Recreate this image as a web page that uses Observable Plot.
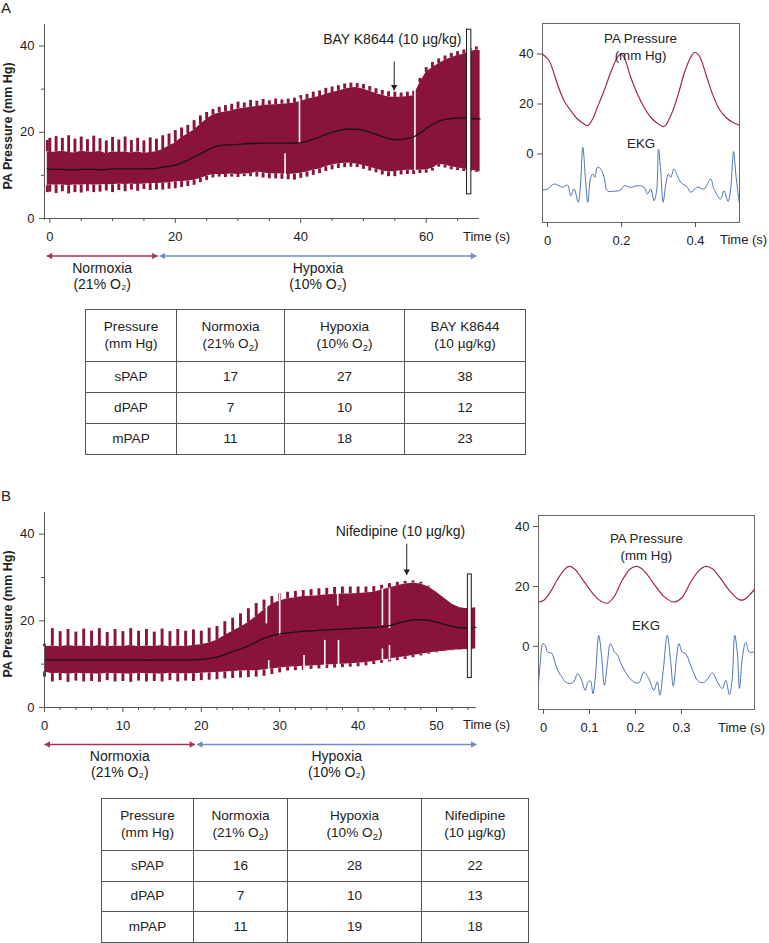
<!DOCTYPE html>
<html>
<head>
<meta charset="utf-8">
<script src="https://cdn.jsdelivr.net/npm/d3@7"></script>
<script src="https://cdn.jsdelivr.net/npm/@observablehq/plot@0.6"></script>
<style>
  body { margin: 0; background: #fff; font-family: "Liberation Sans", Arial, Helvetica, sans-serif; color: #222; }
  #root { position: relative; width: 769px; height: 943px; overflow: hidden; }
  .lbl { position: absolute; white-space: nowrap; font-size: 13px; line-height: 15px; }
  .letter { position: absolute; font-size: 15px; line-height: 15px; }
  .ylab { position: absolute; white-space: nowrap; font-weight: bold; font-size: 12.5px; line-height: 15px; transform: translate(-50%, -50%) rotate(-90deg); }
  table.t { position: absolute; border-collapse: collapse; table-layout: fixed; font-size: 13.6px; color: #222; }
  table.t td { border: 1px solid #555; text-align: center; vertical-align: middle; padding: 0; line-height: 16.5px; box-sizing: border-box; }
  table.t sub { font-size: 9.5px; line-height: 0; vertical-align: -3px; }
</style>
</head>
<body>
<div id="root"></div>
<script>
// ---------------- DATA ----------------
// Panel A : pressure trace (systolic spike tops, band top, band bottom, diastolic spike bottoms, mean)
const timeA = [-0.4,0,1,2,3,4,5,6,7,8,9,10,11,12,13,14,15,16,17,18,19,20,21,22,23,24,25,26,27,28,29,30,31,32,33,34,35,36,37,38,39,40,41,42,43,44,45,46,47,48,49,50,51,52,53,54,55,56,57,58,59,60,61,62,63,64,65,66,67,68,68.6];
const sysA  = [18.1,18.6,19.0,18.6,19.2,18.4,18.9,18.3,19.1,18.5,18.0,18.8,18.2,18.9,18.1,18.6,18.0,18.7,18.4,19.2,19.6,20.4,21.0,21.6,22.7,23.8,24.6,25.3,25.8,26.2,26.5,27.0,26.8,27.4,27.2,27.6,27.3,27.7,27.5,27.7,27.9,28.5,28.8,29.3,29.6,30.2,30.5,30.8,31.2,31.4,31.3,31.1,30.6,30.1,29.7,29.4,29.3,29.1,29.3,29.5,32.5,35.0,36.2,37.0,37.7,38.3,38.7,39.1,39.5,39.8,38.9];
const topA  = [15.5,15.3,15.4,15.6,15.3,15.2,15.6,15.4,15.3,15.6,15.0,15.5,15.3,15.4,15.2,15.5,15.1,15.3,15.5,16.0,16.8,17.5,18.8,19.6,20.5,21.8,23.0,24.0,24.5,24.7,25.0,25.4,25.6,25.8,26.0,26.2,26.3,26.4,26.5,26.6,26.8,27.2,27.6,28.0,28.3,28.8,29.2,29.5,30.0,30.3,30.4,30.0,29.5,29.0,28.6,28.2,28.1,28.1,28.3,28.5,31.5,33.9,35.0,35.9,36.7,37.3,37.8,38.1,38.7,39.1,38.9];
const botA  = [7.6,7.8,7.7,7.8,7.6,7.8,7.7,7.9,7.7,7.8,7.9,7.8,8.0,7.9,8.0,7.9,8.0,8.1,8.1,8.2,8.3,8.5,8.6,8.7,8.9,9.3,9.8,10.2,10.2,10.2,10.3,10.2,10.3,10.4,10.8,10.6,10.4,10.4,10.3,10.2,10.3,10.5,10.8,11.2,11.5,12.0,12.4,12.7,12.8,12.8,12.6,12.3,11.9,11.5,11.1,10.8,10.9,11.1,11.2,11.2,11.2,11.3,11.6,12.6,12.4,12.0,11.8,11.5,11.2,11.0,10.8];
const diaA  = [6.0,6.1,5.8,6.2,5.7,6.0,5.9,6.3,6.0,6.1,6.4,6.0,6.5,6.2,6.6,6.3,6.7,6.5,6.6,6.6,6.8,6.9,7.2,7.4,7.7,8.3,8.8,9.4,9.6,9.5,9.6,9.5,9.7,9.7,9.6,9.4,9.2,9.2,9.1,9.0,8.9,9.3,9.6,10.0,10.4,10.9,11.3,11.6,11.8,11.9,11.8,11.4,11.0,10.6,10.1,9.7,9.7,10.1,10.2,10.2,10.4,10.5,11.0,11.9,11.7,11.3,11.1,10.9,10.8,10.7,10.8];
const meanA = [11.5,11.4,11.4,11.4,11.3,11.3,11.4,11.4,11.4,11.3,11.4,11.5,11.5,11.5,11.5,11.5,11.5,11.5,11.6,11.9,12.1,12.4,12.9,13.5,14.3,15.0,15.8,16.5,16.9,17.1,17.1,17.2,17.3,17.4,17.4,17.5,17.5,17.5,17.5,17.5,17.5,17.6,17.9,18.4,18.9,19.5,20.0,20.4,20.7,20.7,20.7,20.5,20.0,19.5,19.0,18.5,18.3,18.3,18.6,18.9,19.8,20.8,21.8,22.6,23.0,23.2,23.3,23.3,23.2,23.1,23.1];
const gapsA = [{t: 37.5, lo: 9.2, hi: 15.0}, {t: 39.8, lo: 17.4, hi: 27.9}, {t: 58.2, lo: 11.0, hi: 29.8}];
const boxA = {t1: 66.5, t2: 67.2, lo: 5.6, hi: 43.8};
const annA = {t: 54.9, from: 36.4, to: 29.7, tx: 54.6, ty: 41.5, label: "BAY K8644 (10 µg/kg)"};
const phasesA = [
  {name: "Normoxia", gas: "(21% O₂)", start: -0.5, end: 17.2, color: "#a3345c"},
  {name: "Hypoxia", gas: "(10% O₂)", start: 17.5, end: 68.0, color: "#6b8ec0"}
];
const majorTicksA = [0, 20, 40, 60];
const minorTicksA = [5, 10, 15, 25, 30, 35, 45, 50, 55, 65];

// Panel B : pressure trace
const timeB = [0,1,2,3,4,5,6,7,8,9,10,11,12,13,14,15,16,17,18,19,20,21,22,23,24,25,26,27,28,29,30,31,32,33,34,35,36,37,38,39,40,41,42,43,44,45,46,47,48,49,50,51,52,53,54,55];
const sysB  = [14.6,18.2,17.5,18.0,17.4,18.1,17.6,18.2,17.3,18.0,17.5,18.2,17.6,18.0,17.4,18.1,17.5,18.0,17.6,17.9,17.6,18.3,18.7,19.8,20.6,21.6,22.8,24.0,24.8,25.6,26.2,26.6,26.8,27.0,27.2,27.4,27.5,27.7,27.8,27.8,27.8,27.8,27.9,28.2,28.6,28.9,29.1,29.2,28.9,28.0,26.6,25.2,23.8,23.0,22.8,23.0];
const topB  = [14.0,14.2,14.0,14.3,14.1,14.2,14.0,14.3,14.0,14.2,14.1,14.3,14.0,14.2,14.1,14.3,14.0,14.2,14.1,14.3,14.5,14.9,15.5,16.6,17.6,18.5,19.6,21.0,22.5,23.8,24.6,25.1,25.3,25.6,25.7,25.8,26.0,26.1,26.2,26.2,26.3,26.4,26.6,27.1,27.6,28.1,28.5,28.7,28.5,27.8,26.6,25.2,23.8,23.0,22.8,23.0];
const botB  = [8.2,7.8,7.9,7.7,7.9,7.8,7.8,7.7,7.9,7.8,7.8,7.7,7.9,7.8,7.8,7.7,7.9,7.8,7.8,7.8,7.9,8.0,8.1,8.2,8.3,8.4,8.5,8.5,8.7,8.9,9.1,9.3,9.4,9.5,9.6,9.7,9.8,9.9,10.0,10.1,10.2,10.4,10.6,10.9,11.2,11.5,11.7,12.0,12.3,12.6,12.8,13.0,13.2,13.3,13.4,13.5];
const diaB  = [7.0,5.9,6.2,5.8,6.1,5.9,6.0,5.8,6.2,5.9,6.0,5.8,6.1,5.9,6.0,5.9,6.2,5.9,6.1,6.0,6.2,6.3,6.4,6.6,6.7,6.8,6.9,7.0,7.2,7.6,8.0,8.4,8.5,8.6,8.8,8.9,9.0,9.1,9.2,9.3,9.4,9.6,9.9,10.2,10.5,10.8,11.1,11.5,11.9,12.3,12.6,12.9,13.1,13.2,13.3,13.5];
const meanB = [11.0,11.0,11.0,11.0,11.0,11.0,11.0,11.0,11.0,11.0,11.0,11.0,11.0,10.9,11.0,11.0,11.0,11.0,11.0,11.0,11.1,11.3,11.6,12.2,12.9,13.5,14.2,15.1,16.0,16.6,17.0,17.2,17.4,17.6,17.7,17.8,17.9,18.0,18.1,18.2,18.3,18.4,18.5,18.6,18.9,19.4,19.9,20.2,20.3,20.1,19.7,19.2,18.7,18.4,18.3,18.5];
const gapsB = [
  {t: 28.3, lo: 19.3, hi: 23.2}, {t: 28.6, lo: 7.0, hi: 10.8}, {t: 30.0, lo: 16.6, hi: 26.2},
  {t: 33.1, lo: 8.5, hi: 12.0}, {t: 35.75, lo: 8.9, hi: 15.5}, {t: 37.5, lo: 8.5, hi: 15.5},
  {t: 37.4, lo: 23.4, hi: 27.0}, {t: 43.1, lo: 18.9, hi: 27.4}, {t: 43.1, lo: 10.8, hi: 13.5},
  {t: 44.0, lo: 18.2, hi: 27.4}, {t: 44.0, lo: 10.8, hi: 14.3}
];
const boxB = {t1: 54.0, t2: 54.5, lo: 6.8, hi: 30.7};
const annB = {t: 46.2, from: 37.8, to: 30.6, tx: 45.4, ty: 40.6, label: "Nifedipine (10 µg/kg)"};
const phasesB = [
  {name: "Normoxia", gas: "(21% O₂)", start: 0, end: 19.2, color: "#a3345c"},
  {name: "Hypoxia", gas: "(10% O₂)", start: 19.45, end: 55.1, color: "#6b8ec0"}
];
const majorTicksB = [0, 10, 20, 30, 40, 50];
const minorTicksB = [2, 4, 6, 8, 12, 14, 16, 18, 22, 24, 26, 28, 32, 34, 36, 38, 42, 44, 46, 48, 52, 54];

// Panel A inset: PA pressure & EKG over 0.5 s
const paTimeA = [-0.0135,0.0045,0.018,0.0315,0.045,0.063,0.081,0.099,0.108,0.122,0.135,0.153,0.171,0.189,0.198,0.207,0.225,0.243,0.261,0.279,0.297,0.315,0.333,0.351,0.369,0.387,0.398,0.41,0.428,0.446,0.464,0.482,0.5,0.518];
const paValA  = [40,37.3,32,26,21.3,17.3,14,12,11.3,14,18.7,25.3,32.7,38.7,40,38.7,30.7,24,18.7,14.7,12.3,11,15.3,22.7,32,38.7,40.7,39.3,32,24,18,14.7,12.7,11.6];
const ekgTimeA = [-0.0135,0,0.018,0.0315,0.0405,0.054,0.063,0.072,0.083,0.088,0.0955,0.103,0.109,0.117,0.123,0.128,0.135,0.144,0.153,0.162,0.18,0.198,0.207,0.225,0.243,0.261,0.27,0.279,0.288,0.295,0.3,0.306,0.3126,0.32,0.327,0.333,0.342,0.351,0.36,0.378,0.387,0.405,0.423,0.441,0.45,0.468,0.477,0.488,0.495,0.503,0.509,0.518];
const ekgValA  = [-14.4,-14,-12,-12.7,-13.3,-12.4,-16.7,-14,-19.3,-14.7,2.7,-10.7,-19.3,-9.3,-8,-9.3,-5.3,-6,-9.3,-14.7,-14.9,-14.4,-12.7,-13.3,-12.7,-13.3,-16,-14,-18.7,-14.7,2,-6.7,-19.3,-12,-8,-9.3,-6,-8.7,-11.3,-13.3,-15.3,-13.3,-14,-10,-14,-18,-14.7,-19,-14,1,-8,-19.3];
const labelsInsetA = [{t: 0.2514, v: 46.2, text: "PA Pressure"}, {t: 0.2514, v: 39.3, text: "(mm Hg)"}, {t: 0.253, v: 4.2, text: "EKG"}];
const insetTicksA = [0, 0.2, 0.4];

// Panel B inset
const paTimeB = [-0.0109,0,0.0145,0.0291,0.0436,0.056,0.0691,0.0836,0.1018,0.12,0.1382,0.1527,0.1709,0.1891,0.2036,0.2182,0.24,0.2618,0.2836,0.3018,0.32,0.3382,0.3527,0.3673,0.3855,0.4073,0.4255,0.4364,0.4473,0.4582];
const paValB  = [14.8,15.3,18.1,22,25.3,26.7,25.6,22.6,18.7,15.6,14.4,16.4,22,25.9,26.7,25.3,20.9,16.7,14.8,16.4,21.4,25.3,26.7,25.9,22.6,18.1,15.6,15.6,17,18.9];
const ekgTimeB = [-0.0109,-0.0073,-0.0015,0.0036,0.0087,0.0182,0.0255,0.0327,0.04,0.0473,0.0582,0.0655,0.0742,0.0815,0.0909,0.0967,0.1018,0.1076,0.1127,0.12,0.1258,0.1324,0.1396,0.1455,0.1542,0.16,0.1687,0.1782,0.1855,0.1964,0.2073,0.2182,0.2291,0.24,0.2473,0.2531,0.2604,0.2691,0.2764,0.2822,0.2895,0.2945,0.3018,0.3091,0.32,0.3273,0.3345,0.3455,0.3549,0.3673,0.3782,0.3891,0.3964,0.4044,0.4102,0.416,0.4218,0.4262,0.4327,0.44,0.4473,0.4582];
const ekgValB  = [-12.4,-5.8,0.9,0.3,-1.9,-2.4,-5.8,-8.6,-10.2,-11.9,-12.4,-11.9,-9.1,-10.8,-14.7,-11.9,-11.6,-15.8,-10.2,3.7,-2.4,-13,-4.7,0.9,-1.9,-2.7,-5.8,-8.6,-10.2,-11.9,-12.2,-8.6,-10.8,-14.7,-11.9,-16.3,-8,3.7,-4.7,-13.3,-3.6,0.9,-1.9,-2.4,-6.3,-9.1,-11.3,-12.2,-11.3,-8.9,-11.9,-14.1,-11.3,-16.1,-11.3,3.7,-2.4,-14.1,-3.6,1.4,-1.9,-1.9];
const labelsInsetB = [{t: 0.2237, v: 35.9, text: "PA Pressure"}, {t: 0.2237, v: 30.4, text: "(mm Hg)"}, {t: 0.223, v: 7.0, text: "EKG"}];
const insetTicksB = [0, 0.1, 0.2, 0.3];

// Tables
const tableRowLabels = ["sPAP", "dPAP", "mPAP"];
const tableHeadersA = ["Pressure\n(mm Hg)", "Normoxia\n(21% O₂)", "Hypoxia\n(10% O₂)", "BAY K8644\n(10 µg/kg)"];
const tableValuesA = [[17, 27, 38], [7, 10, 12], [11, 18, 23]];
const tableHeadersB = ["Pressure\n(mm Hg)", "Normoxia\n(21% O₂)", "Hypoxia\n(10% O₂)", "Nifedipine\n(10 µg/kg)"];
const tableValuesB = [[16, 28, 22], [7, 10, 13], [11, 19, 18]];

// ---------------- DRAWING ----------------
const FONT = '"Liberation Sans", Arial, Helvetica, sans-serif';
const BAND = "#8a1439";
const PA_LINE = "#a1264e";
const EKG_LINE = "#4d75b2";
const AXIS = "#555";
const root = document.getElementById("root");

function place(el, left, top) {
  el.style.position = "absolute";
  el.style.left = left + "px";
  el.style.top = top + "px";
  root.appendChild(el);
}

function tracePlot(o) {
  const rows = o.t.map((t, i) => ({t, sys: o.sys[i], top: o.top[i], bot: o.bot[i], dia: o.dia[i], mean: o.mean[i]}));
  const phases = o.phases.map(p => ({...p, mid: (p.start + p.end) / 2}));
  const [x0, x1] = o.xDomain;
  return Plot.plot({
    width: 510, height: o.height,
    marginLeft: 44, marginRight: o.marginRight, marginTop: o.marginTop, marginBottom: o.marginBottom,
    style: {fontFamily: FONT, fontSize: "13px", color: "#222", background: "transparent"},
    x: {domain: o.xDomain},
    y: {domain: [0, 45]},
    color: {type: "identity"},
    marks: [
      Plot.areaY(rows, {x: "t", y1: "bot", y2: "top", fill: BAND}),
      Plot.ruleX(rows, {x: "t", y1: "top", y2: "sys", stroke: BAND, strokeWidth: 2.9}),
      Plot.ruleX(rows, {x: "t", y1: "dia", y2: "bot", stroke: BAND, strokeWidth: 2.9}),
      Plot.ruleX(o.gaps, {x: "t", y1: "lo", y2: "hi", stroke: "white", strokeWidth: 1.6}),
      Plot.line(rows, {x: "t", y: "mean", stroke: "#141414", strokeWidth: 1.3}),
      Plot.rect([o.box], {x1: "t1", x2: "t2", y1: "lo", y2: "hi", fill: "#f6f6f6", stroke: "#1a1a1a", strokeWidth: 1}),
      Plot.link([o.ann], {x1: "t", x2: "t", y1: "from", y2: "to", stroke: "#222", strokeWidth: 1}),
      Plot.dot([o.ann], {x: "t", y: "to", symbol: "triangle", rotate: 180, r: 2.4, fill: "#222", dy: -3.6}),
      Plot.text([o.ann], {x: "tx", y: "ty", text: "label", fontSize: 14, fill: "#222"}),
      Plot.ruleX([x0], {y1: -0.4, y2: 45, stroke: AXIS}),
      Plot.ruleY([0], {x1: x0, x2: x1, stroke: AXIS}),
      Plot.axisY({ticks: [0, 20, 40], tickSize: 5, tickPadding: 5, label: null, stroke: AXIS, fill: "#222"}),
      Plot.axisY({ticks: [10, 30], tickSize: 3, tickFormat: () => "", label: null, stroke: AXIS}),
      Plot.axisX({ticks: o.majorTicks, tickSize: 5, tickPadding: 8, label: null, stroke: AXIS, fill: "#222"}),
      Plot.axisX({ticks: o.minorTicks, tickSize: 3, tickFormat: () => "", label: null, stroke: AXIS}),
      Plot.link(phases, {x1: "start", x2: "end", y1: 0, y2: 0, dy: o.arrowDy, stroke: "color", strokeWidth: 1.3}),
      Plot.dot(phases, {x: "start", y: 0, dy: o.arrowDy, dx: 3.6, symbol: "triangle", rotate: -90, r: 2.4, fill: "color"}),
      Plot.dot(phases, {x: "end", y: 0, dy: o.arrowDy, dx: -3.6, symbol: "triangle", rotate: 90, r: 2.4, fill: "color"}),
      Plot.text(phases, {x: "mid", y: 0, dy: o.arrowDy + 12.5, text: "name", fontSize: 14, fill: "#222"}),
      Plot.text(phases, {x: "mid", y: 0, dy: o.arrowDy + 28.5, text: "gas", fontSize: 14, fill: "#222"})
    ]
  });
}

function wavePlot(o) {
  const pa = o.paT.map((t, i) => ({t, v: o.paV[i]}));
  const ekg = o.ekgT.map((t, i) => ({t, v: o.ekgV[i]}));
  return Plot.plot({
    width: 279, height: 260,
    marginLeft: o.ml, marginRight: o.mr, marginTop: o.mt, marginBottom: o.mb,
    style: {fontFamily: FONT, fontSize: "13px", color: "#222", background: "transparent"},
    x: {domain: o.xDomain},
    y: {domain: o.yDomain},
    marks: [
      Plot.frame({stroke: "#666"}),
      Plot.line(pa, {x: "t", y: "v", stroke: PA_LINE, strokeWidth: 1.2, curve: "catmull-rom"}),
      Plot.line(ekg, {x: "t", y: "v", stroke: EKG_LINE, strokeWidth: 1, curve: "catmull-rom"}),
      Plot.text(o.labels, {x: "t", y: "v", text: "text", fontSize: 13.3, fill: "#222"}),
      Plot.axisX({ticks: o.xTicks, tickSize: 5, tickPadding: 8, tickFormat: d => String(d), label: null, stroke: AXIS, fill: "#222"}),
      Plot.axisY({ticks: [0, 20, 40], tickSize: 5, tickPadding: 4, label: null, stroke: AXIS, fill: "#222"})
    ]
  });
}

function textDiv(text, cls, left, top, transform) {
  const d = document.createElement("div");
  d.className = cls;
  d.textContent = text;
  d.style.left = left + "px";
  d.style.top = top + "px";
  if (transform) d.style.transform = transform;
  root.appendChild(d);
}

function makeTable(headers, values, left, top, widths, headH, rowH) {
  const tbl = document.createElement("table");
  tbl.className = "t";
  const cg = document.createElement("colgroup");
  widths.forEach(w => { const c = document.createElement("col"); c.style.width = w + "px"; cg.appendChild(c); });
  tbl.appendChild(cg);
  tbl.style.width = d3.sum(widths) + "px";
  const fmt = s => s.replace("\n", "<br>").replace("O₂", "O<sub>2</sub>");
  const hr = document.createElement("tr");
  headers.forEach(h => { const td = document.createElement("td"); td.innerHTML = fmt(h); td.style.height = headH + "px"; hr.appendChild(td); });
  tbl.appendChild(hr);
  values.forEach((row, i) => {
    const tr = document.createElement("tr");
    [tableRowLabels[i], ...row].forEach(v => { const td = document.createElement("td"); td.textContent = v; td.style.height = rowH + "px"; tr.appendChild(td); });
    tbl.appendChild(tr);
  });
  place(tbl, left, top);
}

// Panel A
textDiv("A", "letter", 1, 0);
place(tracePlot({
  t: timeA, sys: sysA, top: topA, bot: botA, dia: diaA, mean: meanA,
  gaps: gapsA, box: boxA, ann: annA, phases: phasesA,
  majorTicks: majorTicksA, minorTicks: minorTicksA,
  xDomain: [-0.85, 68.5], height: 300, marginTop: 24, marginBottom: 82, marginRight: 31, arrowDy: 37.5
}), 0, 0);
textDiv("PA Pressure (mm Hg)", "ylab", 7.5, 126);
textDiv("Time (s)", "lbl", 463, 236, "translate(0,-50%)");
place(wavePlot({
  paT: paTimeA, paV: paValA, ekgT: ekgTimeA, ekgV: ekgValA, labels: labelsInsetA, xTicks: insetTicksA,
  xDomain: [-0.0135, 0.519], yDomain: [-27.4, 52.2], ml: 52, mr: 30, mt: 23, mb: 38
}), 490, 0);
textDiv("Time (s)", "lbl", 720, 239, "translate(0,-50%)");
makeTable(tableHeadersA, tableValuesA, 85, 309, [91, 108, 120, 121], 52, 31);

// Panel B
textDiv("B", "letter", 1, 488);
place(tracePlot({
  t: timeB, sys: sysB, top: topB, bot: botB, dia: diaB, mean: meanB,
  gaps: gapsB, box: boxB, ann: annB, phases: phasesB,
  majorTicks: majorTicksB, minorTicks: minorTicksB,
  xDomain: [0, 55.1], height: 310, marginTop: 32, marginBottom: 83, marginRight: 34, arrowDy: 37
}), 0, 480);
textDiv("PA Pressure (mm Hg)", "ylab", 7.5, 614);
textDiv("Time (s)", "lbl", 463, 724.3, "translate(0,-50%)");
place(wavePlot({
  paT: paTimeB, paV: paValB, ekgT: ekgTimeB, ekgV: ekgValB, labels: labelsInsetB, xTicks: insetTicksB,
  xDomain: [-0.011, 0.459], yDomain: [-21.1, 43.7], ml: 48, mr: 15, mt: 15, mb: 51
}), 490, 500);
textDiv("Time (s)", "lbl", 718, 726.7, "translate(0,-50%)");
makeTable(tableHeadersB, tableValuesB, 101, 798, [92, 94, 134, 107], 52, 30.5);
</script>
</body>
</html>
